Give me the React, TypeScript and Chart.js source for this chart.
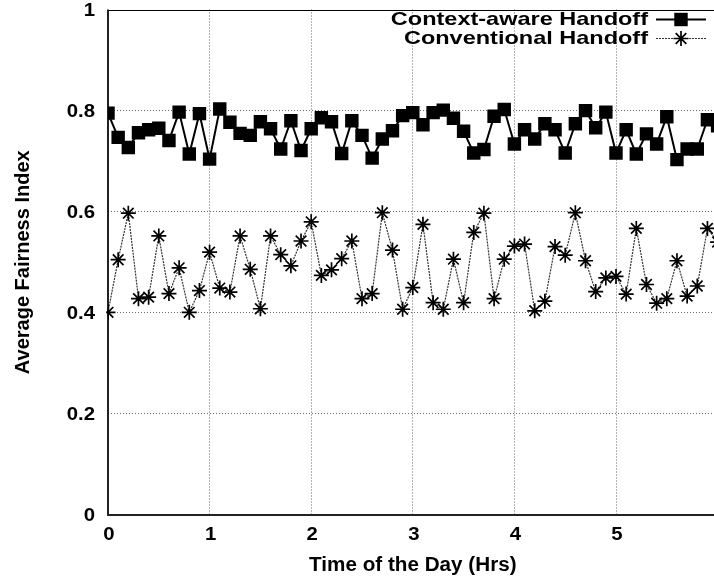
import React, { useEffect, useRef } from 'react';
import { Chart, registerables } from 'chart.js';

Chart.register(...registerables);

const times = [
  0, 0.1, 0.2, 0.3, 0.4, 0.5, 0.6, 0.7, 0.8, 0.9,
  1.0, 1.1, 1.2, 1.3, 1.4, 1.5, 1.6, 1.7, 1.8, 1.9,
  2.0, 2.1, 2.2, 2.3, 2.4, 2.5, 2.6, 2.7, 2.8, 2.9,
  3.0, 3.1, 3.2, 3.3, 3.4, 3.5, 3.6, 3.7, 3.8, 3.9,
  4.0, 4.1, 4.2, 4.3, 4.4, 4.5, 4.6, 4.7, 4.8, 4.9,
  5.0, 5.1, 5.2, 5.3, 5.4, 5.5, 5.6, 5.7, 5.8, 5.9,
  6.0,
];

const contextAware = [
  0.795, 0.747, 0.727, 0.756, 0.762, 0.765, 0.741, 0.797, 0.714, 0.794,
  0.704, 0.803, 0.777, 0.755, 0.751, 0.778, 0.764, 0.724, 0.780, 0.721,
  0.764, 0.786, 0.778, 0.715, 0.780, 0.751, 0.706, 0.744, 0.760, 0.790,
  0.796, 0.772, 0.796, 0.801, 0.785, 0.759, 0.716, 0.723, 0.789, 0.802,
  0.734, 0.762, 0.744, 0.774, 0.762, 0.716, 0.774, 0.800, 0.766, 0.797,
  0.716, 0.762, 0.714, 0.754, 0.734, 0.788, 0.703, 0.724, 0.724, 0.782,
  0.770,
];

const conventional = [
  0.401, 0.505, 0.597, 0.428, 0.431, 0.552, 0.438, 0.489, 0.401, 0.444,
  0.520, 0.449, 0.441, 0.552, 0.486, 0.408, 0.552, 0.515, 0.493, 0.542,
  0.580, 0.474, 0.485, 0.507, 0.542, 0.428, 0.438, 0.598, 0.524, 0.407,
  0.450, 0.575, 0.420, 0.407, 0.506, 0.420, 0.559, 0.597, 0.428, 0.506,
  0.532, 0.536, 0.404, 0.423, 0.531, 0.514, 0.598, 0.503, 0.442, 0.469,
  0.472, 0.437, 0.567, 0.456, 0.419, 0.428, 0.503, 0.433, 0.453, 0.567,
  0.540,
];

const seriesLabels = ['Context-aware Handoff', 'Conventional Handoff'];
const xTickValues = [0, 1, 2, 3, 4, 5];
const yTickValues = [0, 0.2, 0.4, 0.6, 0.8, 1];
const xTitle = 'Time of the Day (Hrs)';
const yTitle = 'Average Fairness Index';

const FONT = '"Liberation Sans", Arial, Helvetica, sans-serif';

function drawText(
  ctx: CanvasRenderingContext2D,
  text: string,
  x: number,
  y: number,
  size: number,
  sx: number,
  align: CanvasTextAlign,
  rotate = 0
) {
  ctx.save();
  ctx.translate(x, y);
  if (rotate) ctx.rotate(rotate);
  ctx.scale(sx, 1);
  ctx.font = `bold ${size}px ${FONT}`;
  ctx.fillStyle = '#000';
  ctx.textAlign = align;
  ctx.textBaseline = 'middle';
  ctx.fillText(text, 0, 0);
  ctx.restore();
}

function drawMarker(ctx: CanvasRenderingContext2D, style: string, x: number, y: number, r: number, lw: number) {
  ctx.save();
  ctx.fillStyle = '#000';
  ctx.strokeStyle = '#000';
  if (style === 'rect') {
    const h = r * Math.SQRT1_2;
    ctx.fillRect(x - h, y - h, 2 * h, 2 * h);
  } else {
    ctx.lineWidth = lw;
    ctx.beginPath();
    for (let k = 0; k < 4; k++) {
      const a = (k * Math.PI) / 4;
      ctx.moveTo(x - Math.cos(a) * r, y - Math.sin(a) * r);
      ctx.lineTo(x + Math.cos(a) * r, y + Math.sin(a) * r);
    }
    ctx.stroke();
  }
  ctx.restore();
}

const gnuplotPlugin = {
  id: 'gnuplotDecor',
  beforeDatasetsDraw(chart: any) {
    const { ctx, chartArea } = chart;
    ctx.save();
    // top border
    ctx.strokeStyle = '#000';
    ctx.lineWidth = 1;
    ctx.beginPath();
    ctx.moveTo(chartArea.left, Math.round(chartArea.top) + 0.5);
    ctx.lineTo(chartArea.right, Math.round(chartArea.top) + 0.5);
    ctx.stroke();
    // left and bottom axes
    ctx.strokeStyle = '#222';
    ctx.lineWidth = 2;
    ctx.beginPath();
    ctx.moveTo(Math.round(chartArea.left), chartArea.top);
    ctx.lineTo(Math.round(chartArea.left), Math.round(chartArea.bottom));
    ctx.lineTo(chartArea.right, Math.round(chartArea.bottom));
    ctx.stroke();
    ctx.restore();
  },
  afterDatasetsDraw(chart: any) {
    const { ctx } = chart;
    const meta = chart.getDatasetMeta(1);
    ctx.save();
    ctx.fillStyle = '#000';
    meta.data.forEach((p: any) => {
      ctx.beginPath();
      ctx.arc(p.x, p.y, 1.8, 0, Math.PI * 2);
      ctx.fill();
    });
    ctx.restore();
  },
  afterDraw(chart: any) {
    const { ctx } = chart;
    const xs = chart.scales.x;
    const ys = chart.scales.y;
    yTickValues.forEach((v) => {
      drawText(ctx, String(v), 95, ys.getPixelForValue(v) + 1, 18.5, 1.1, 'right');
    });
    xTickValues.forEach((v) => {
      drawText(ctx, String(v), xs.getPixelForValue(v) + 1, 535, 18.5, 1.1, 'center');
    });
    drawText(ctx, xTitle, (xs.left + xs.right) / 2, 566, 19.5, 1.06, 'center');
    drawText(ctx, yTitle, 23, (ys.top + ys.bottom) / 2, 20, 1.0, 'center', -Math.PI / 2);

    // legend
    const rows = [20, 39];
    chart.data.datasets.forEach((ds: any, i: number) => {
      const y = rows[i];
      drawText(ctx, ds.label, 648, y, 18.5, 1.27, 'right');
      ctx.save();
      ctx.strokeStyle = ds.borderColor;
      ctx.lineWidth = ds.borderWidth;
      ctx.setLineDash(ds.borderDash || []);
      ctx.beginPath();
      ctx.moveTo(656, y - 1 + 0.5);
      ctx.lineTo(706, y - 1 + 0.5);
      ctx.stroke();
      ctx.restore();
      drawMarker(ctx, ds.pointStyle, 681, y - 0.5, ds.pointRadius, ds.pointBorderWidth || 1);
    });
  },
};

export default function App() {
  const canvasRef = useRef<HTMLCanvasElement | null>(null);

  useEffect(() => {
    if (!canvasRef.current) return;
    const chart = new Chart(canvasRef.current, {
      type: 'line',
      data: {
        datasets: [
          {
            label: seriesLabels[0],
            data: times.map((t, i) => ({ x: t, y: contextAware[i] })),
            borderColor: '#000',
            borderWidth: 2,
            pointStyle: 'rect',
            pointRadius: 9.5,
            pointHoverRadius: 9.5,
            pointBackgroundColor: '#000',
            pointBorderColor: '#000',
            pointBorderWidth: 0,
            tension: 0,
            clip: 0,
          } as any,
          {
            label: seriesLabels[1],
            data: times.map((t, i) => ({ x: t, y: conventional[i] })),
            borderColor: '#333',
            borderWidth: 1.2,
            borderDash: [2, 1],
            pointStyle: 'star',
            pointRadius: 7.5,
            pointHoverRadius: 7.5,
            pointBackgroundColor: '#000',
            pointBorderColor: '#000',
            pointBorderWidth: 1.7,
            tension: 0,
            clip: 0,
          } as any,
        ],
      },
      options: {
        animation: false,
        responsive: false,
        events: [],
        layout: { padding: { left: 0, right: 22.4, top: 8.5, bottom: 0 } },
        plugins: { legend: { display: false }, tooltip: { enabled: false }, title: { display: false } },
        scales: {
          x: {
            type: 'linear',
            min: 0,
            max: 6,
            afterFit: (s: any) => {
              s.height = 69;
            },
            ticks: { display: false, stepSize: 1 },
            grid: {
              drawTicks: false,
              color: (c: any) => (c.tick && (c.tick.value === 0 || c.tick.value === 6) ? 'rgba(0,0,0,0)' : '#666'),
              lineWidth: 1,
            },
            border: { display: false, dash: [1, 2] },
          },
          y: {
            type: 'linear',
            min: 0,
            max: 1,
            afterFit: (s: any) => {
              s.width = 108;
            },
            ticks: { display: false, stepSize: 0.2 },
            grid: {
              drawTicks: false,
              color: (c: any) => (c.tick && (c.tick.value === 0 || c.tick.value === 1) ? 'rgba(0,0,0,0)' : '#666'),
              lineWidth: 1,
            },
            border: { display: false, dash: [1, 2] },
          },
        },
      } as any,
      plugins: [gnuplotPlugin],
    });
    return () => chart.destroy();
  }, []);

  return (
    <div
      style={{
        position: 'fixed',
        left: 0,
        top: 0,
        width: 714,
        height: 584,
        overflow: 'hidden',
        background: '#fff',
      }}
    >
      <canvas ref={canvasRef} width={740} height={584} style={{ display: 'block', width: 740, height: 584 }} />
    </div>
  );
}
